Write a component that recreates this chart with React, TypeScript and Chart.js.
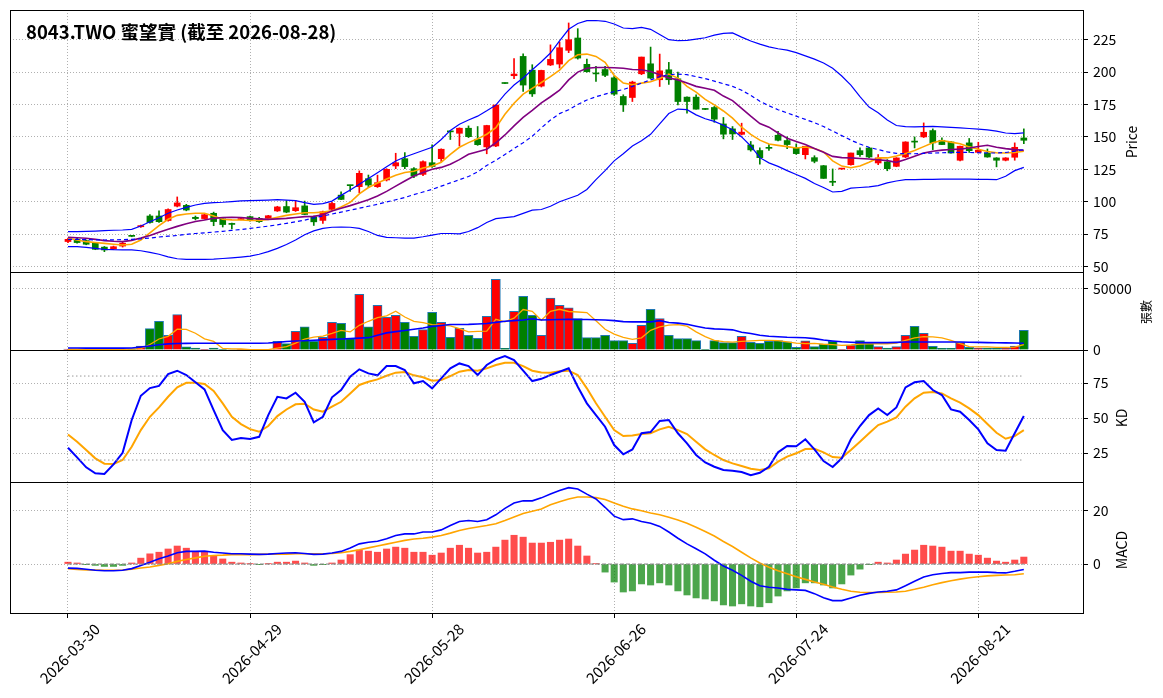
import React, { useEffect, useRef } from 'react';
import Chart from 'chart.js/auto';

// trading days shown on the x axis
const dates = [
  '2026-03-30', '2026-03-31', '2026-04-01', '2026-04-02', '2026-04-07', '2026-04-08', '2026-04-09', '2026-04-10',
  '2026-04-13', '2026-04-14', '2026-04-15', '2026-04-16', '2026-04-17', '2026-04-20', '2026-04-21', '2026-04-22',
  '2026-04-23', '2026-04-24', '2026-04-27', '2026-04-28', '2026-04-29', '2026-04-30', '2026-05-04', '2026-05-05',
  '2026-05-06', '2026-05-07', '2026-05-08', '2026-05-11', '2026-05-12', '2026-05-13', '2026-05-14', '2026-05-15',
  '2026-05-18', '2026-05-19', '2026-05-20', '2026-05-21', '2026-05-22', '2026-05-25', '2026-05-26', '2026-05-27',
  '2026-05-28', '2026-05-29', '2026-06-01', '2026-06-02', '2026-06-03', '2026-06-04', '2026-06-05', '2026-06-08',
  '2026-06-09', '2026-06-10', '2026-06-11', '2026-06-12', '2026-06-15', '2026-06-16', '2026-06-17', '2026-06-18',
  '2026-06-22', '2026-06-23', '2026-06-24', '2026-06-25', '2026-06-26', '2026-06-29', '2026-06-30', '2026-07-01',
  '2026-07-02', '2026-07-03', '2026-07-06', '2026-07-07', '2026-07-08', '2026-07-09', '2026-07-10', '2026-07-13',
  '2026-07-14', '2026-07-15', '2026-07-16', '2026-07-17', '2026-07-20', '2026-07-21', '2026-07-22', '2026-07-23',
  '2026-07-24', '2026-07-27', '2026-07-28', '2026-07-29', '2026-07-30', '2026-07-31', '2026-08-03', '2026-08-04',
  '2026-08-05', '2026-08-06', '2026-08-07', '2026-08-10', '2026-08-11', '2026-08-12', '2026-08-13', '2026-08-14',
  '2026-08-17', '2026-08-18', '2026-08-19', '2026-08-20', '2026-08-21', '2026-08-24', '2026-08-25', '2026-08-26',
  '2026-08-27', '2026-08-28',
];

const open = [
  69.3, 71, 70, 68, 65, 63.5, 65.8, 73.7, 80.7, 89,
  89, 85.5, 96.6, 97.2, 88, 87, 91.1, 86.8, 83.3, 86.2,
  88.5, 87.2, 87.2, 92.9, 96.3, 93.1, 96.8, 88.4, 85.6, 94.1,
  105.1, 112.6, 111.6, 117.8, 111.6, 116.8, 127.6, 133.2, 125.5, 121.1,
  130.1, 133.2, 154.3, 152.8, 156.7, 148.2, 142.3, 143, 191.5, 197.2,
  212.1, 201.5, 189.2, 205.5, 206.2, 216.8, 226.3, 206, 199, 202,
  195.6, 181.2, 180.4, 198.7, 206.4, 194.1, 201.8, 194.8, 180.7, 180.7,
  171.6, 172.7, 160, 156.2, 152, 143.8, 139.5, 141.8, 151.3, 147.2,
  141.5, 136.3, 134, 127.8, 115.5, 125.2, 128.6, 139.4, 141.5, 129.9,
  130.7, 127.3, 134.5, 146.3, 150, 154.9, 147.4, 146.1, 132, 145.4,
  138.1, 137.6, 133.8, 132, 134.3, 149.2,
];
const high = [
  72, 72.5, 70.5, 68.5, 65.5, 65.8, 68.8, 74, 82, 90,
  93, 94.5, 103.7, 98, 89, 90.5, 92, 87, 83.5, 87.2,
  89, 88, 89.5, 96.5, 100.8, 101, 100.5, 89, 92.8, 99.5,
  107.6, 112.8, 123.8, 120.6, 120.5, 125.5, 137.4, 137.9, 126.3, 131.6,
  143.8, 140.8, 154.5, 157, 158.5, 158, 159, 174.7, 191.8, 210.5,
  214, 205.7, 201.5, 221, 223.2, 237.9, 233.5, 210, 204.4, 204.5,
  197, 182.5, 193, 211.6, 219.3, 213.9, 207.5, 200, 181, 182.5,
  172, 173.5, 165, 158, 160.6, 146.5, 141.5, 144, 154.4, 150,
  144.6, 142.8, 135.5, 128, 125.3, 125.8, 137.6, 141.5, 142, 136.4,
  132.5, 134, 146.3, 150, 160.8, 156.2, 149.2, 146.5, 143, 148.8,
  145.9, 140.7, 134, 134, 145.4, 156.2,
];
const low = [
  68.5, 68, 66.8, 63, 61.5, 63, 65, 73, 80.2, 83.5,
  84, 85, 96, 93, 86, 86.5, 81.5, 80.5, 79, 86,
  85, 84, 87, 92.5, 91.5, 92.5, 90, 81.7, 83.2, 93.5,
  101.5, 108, 107, 111, 111, 116, 125.5, 125.5, 118.5, 120.2,
  126.5, 131, 148, 143, 149.5, 143.5, 137, 142.5, 191, 195,
  185, 181.2, 188.5, 205, 203.1, 215, 210, 200, 192.8, 196.5,
  182, 169.6, 177.3, 198, 195, 188.9, 190.5, 174.7, 168.3, 171.4,
  171, 161.3, 148.5, 148, 151.5, 139, 129, 139.5, 147, 141,
  136.5, 133, 130, 118, 112.4, 125, 128.2, 135, 134, 128.6,
  123.9, 127, 134, 141.5, 149.5, 140.2, 144.1, 137.5, 131.5, 138,
  137.6, 134.3, 126.9, 131.5, 132, 144.8,
];
const close = [
  71, 68.5, 67.2, 63.3, 62.8, 65.3, 68, 73.3, 81.6, 84,
  84.6, 94, 99.1, 93.6, 87, 90, 84.7, 82.4, 82.5, 87,
  85.4, 84.6, 89.2, 96, 92, 95.4, 90.2, 84.5, 92.3, 98.7,
  101.8, 112.4, 121.9, 112.9, 114.7, 125, 130.1, 127.1, 119.8, 130.9,
  127.2, 140.5, 153.9, 156.7, 150.2, 144, 158.8, 174.6, 191.2, 198.5,
  190, 183.2, 201.3, 209.8, 218.8, 225, 210.8, 200.3, 198.6, 197.5,
  183, 174.7, 192.3, 211.6, 195.4, 201, 194.1, 177.3, 177.3, 171.4,
  171.2, 163.7, 152.1, 152.3, 153.7, 140, 134, 141.2, 147.4, 144.1,
  137.1, 142.8, 131.2, 118, 115, 125.6, 137.6, 136.3, 134.5, 133.8,
  125.5, 133.8, 146.1, 146, 153.6, 145.4, 144.1, 137.6, 142.8, 139.4,
  139.7, 134.5, 132, 133.8, 142, 147.4,
];

const ma5 = [
  71.8, 70.5, 69.2, 68.5, 67.9, 67.2, 66.6, 67.2, 70.5, 76,
  81.5, 86.5, 89.5, 90.5, 91.1, 91.1, 89, 86.5, 86, 85.9,
  85.5, 85.6, 86.4, 88, 89.5, 90.5, 91.5, 91.5, 92, 93,
  96, 99.5, 106, 111, 114.5, 117.5, 120.5, 122.5, 123.5, 126,
  127.6, 130.5, 136.6, 142, 145.6, 148.5, 152.1, 157.2, 167.5, 176,
  183, 187.5, 192, 196.5, 201.5, 208.8, 213.4, 213.9, 212.1, 207.5,
  197.5, 191.5, 190.2, 191.5, 192.5, 195, 198.5, 195.4, 189, 184.5,
  179, 174.7, 170, 164.5, 157.5, 152, 147.5, 144.5, 143.5, 142.5,
  141.5, 142.2, 141, 138.5, 131.5, 127.5, 126.2, 127.5, 130.5, 133.8,
  133.8, 135.3, 137.1, 139.5, 142.5, 145.5, 147.2, 146, 144.8, 142.3,
  140.5, 138.8, 137.8, 137.6, 138, 138.9,
];
const ma10 = [
  72.6, 72.2, 71.8, 71, 70, 69.5, 69.2, 70.2, 72, 74,
  76.5, 78.7, 81, 83, 84.8, 85.9, 87.2, 87.8, 88, 87.8,
  87.2, 86.8, 86.4, 86.8, 87.2, 87.8, 88.5, 88.7, 90, 92.8,
  95, 97, 99.2, 101.5, 104.5, 108, 112, 116, 119.8, 122.5,
  125, 126.5, 129, 132.5, 136.6, 138.6, 140.5, 145.5, 151.5, 158.5,
  165, 170.5, 176.3, 181, 186, 194, 200, 203, 203.6, 203.6,
  203.4, 203, 202, 201.8, 200.5, 198, 195.5, 194, 191.5, 189,
  187.6, 186, 181.5, 178, 172, 166, 160.3, 157.5, 153, 149,
  146.5, 144.1, 141, 138.2, 135, 134, 133.8, 133.4, 133, 132.4,
  131.7, 130.4, 132.5, 135, 137.5, 138.9, 139.8, 140.3, 140.6, 141.5,
  142.6, 143.6, 142, 141, 140.2, 139.7,
];
const bbUpper = [
  76.9, 76.9, 77.2, 77.4, 77.7, 78, 78.2, 78.7, 81.3, 84.6,
  87.7, 91.1, 93.6, 95.7, 97.5, 98.8, 99.3, 99.6, 100.1, 100.6,
  100.8, 101.1, 101.3, 101.6, 101.3, 100.8, 99.3, 98, 98.5, 100.5,
  104.9, 109, 113.4, 118, 122.4, 127, 131.4, 134.5, 137, 139.5,
  142, 148, 155, 159.8, 163, 166, 170.1, 174.5, 183, 190,
  195.4, 201.8, 208, 214.7, 224, 233, 237.5, 239.7, 239.8, 239.2,
  237.1, 234, 233.5, 234.5, 233, 229, 225, 224.2, 224.5, 225.5,
  226.5, 228.5, 229.8, 230.2, 227, 224, 221.6, 219.5, 218, 217,
  215, 212.5, 210, 207, 203, 197, 190, 181, 173, 168.6,
  163, 158.8, 158, 157.7, 157.9, 158.2, 157.8, 157.4, 157, 156.5,
  156, 155.5, 154.5, 153, 152.6, 153.1,
];
const bbMid = [
  71, 70.9, 70.8, 70.6, 70.5, 70.6, 70.8, 71, 71.4, 72,
  72.8, 73.4, 74, 74.8, 75.5, 76, 76.6, 77.2, 77.9, 78.6,
  79.4, 80.3, 81.2, 82.2, 83.3, 84.5, 85.8, 87.5, 89, 90.5,
  92, 93.5, 95, 96.5, 98, 99.8, 101.5, 103.3, 105.5, 107.5,
  109.5, 112, 114.5, 117, 119.5, 123, 128, 132, 136.5, 141,
  145.5, 150.5, 157, 163, 168, 171, 175, 178.5, 181, 183,
  185, 186.5, 189, 191.5, 194, 196.5, 198, 198.5, 198, 196.5,
  195, 193, 191, 189, 186, 182, 177.5, 174, 171, 168.5,
  166, 163.5, 161, 158, 154.5, 151, 147.5, 144.5, 142, 140.2,
  138.5, 137.3, 137, 137, 137.3, 137.5, 137.8, 138, 138.1, 138,
  137.8, 137.6, 137.6, 138, 139, 140.2,
];
const bbLower = [
  65.4, 65.3, 64.8, 64, 63.3, 63, 62.9, 62.8, 62.2, 61,
  59.5, 57.5, 56, 55.6, 55.5, 55.6, 55.8, 56.2, 56.7, 57.3,
  58, 59.5, 61.5, 64, 67, 70.5, 74.5, 77.5, 79.5, 80.3,
  80.5, 80.3, 79.5, 77, 74, 72.5, 72.2, 72, 72, 73,
  74.3, 75.5, 75.5, 75.2, 77, 80, 84, 87, 87.8, 88.5,
  91, 93.5, 94, 96.5, 100, 102.5, 105, 109.5, 117, 124,
  131.5, 137, 143, 147, 152, 160, 168, 171.5, 171, 167,
  164, 162, 159, 155.5, 150, 143, 134, 130, 127.3, 124,
  121, 118, 114, 111, 107.5, 108, 110.5, 111, 111.5, 112.4,
  114.5, 116, 117, 117, 117.2, 117.3, 117.4, 117.5, 117.5, 117.5,
  117.3, 117.2, 117, 119.6, 124, 126.5,
];

const volume = [
  800, 600, 500, 700, 600, 500, 400, 900, 3300, 17500,
  23500, 12000, 29000, 2500, 1600, 500, 1600, 300, 400, 200,
  200, 300, 400, 7100, 5200, 15300, 18900, 7100, 10400, 22700,
  21900, 9300, 45600, 18900, 36600, 26800, 28400, 22700, 11200, 16700,
  30900, 22700, 10400, 17800, 12000, 9600, 27600, 57900, 1400, 31700,
  44000, 28400, 12000, 42400, 36600, 34400, 25700, 10100, 10100, 12000,
  7700, 7700, 5500, 20200, 33300, 25700, 12000, 9300, 9300, 7700,
  300, 7700, 6000, 6000, 11200, 6300, 5500, 7100, 7700, 6600,
  2200, 7400, 2700, 4900, 7100, 300, 3800, 7700, 5500, 2700,
  1600, 2700, 12000, 19400, 13700, 3000, 1400, 1400, 6000, 2200,
  1600, 1600, 1600, 1400, 3300, 16100,
];
const volMa5 = [
  600, 600, 600, 600, 600, 600, 600, 650, 1200, 4500,
  9000, 11200, 17000, 16900, 13700, 9100, 7000, 1300, 900, 800,
  300, 300, 300, 1600, 2700, 5700, 9000, 10600, 11400, 13600,
  16100, 14800, 20200, 23500, 26400, 27900, 31700, 27000, 23500, 22400,
  20800, 20400, 19700, 17500, 14800, 15300, 15500, 25100, 23000, 26000,
  33100, 31700, 24300, 31700, 33300, 31500, 31100, 30600, 24000, 16900,
  13000, 10300, 8700, 10000, 16100, 18900, 20300, 20800, 19500, 14800,
  11000, 7800, 6900, 6500, 7000, 7500, 7900, 7800, 7700, 6600,
  5600, 5200, 5400, 4700, 4400, 3800, 4100, 4900, 5000, 5300,
  5100, 5700, 7900, 10000, 10900, 10700, 10000, 7900, 5200, 2800,
  2500, 2600, 2200, 2100, 2400, 4400,
];
const volMa20 = [
  1600, 1600, 1550, 1550, 1500, 1500, 1500, 1600, 2400, 3300,
  4300, 5000, 5300, 5400, 5500, 5500, 5500, 5500, 5500, 5500,
  5500, 5500, 5700, 6200, 7000, 7300, 7600, 8000, 8300, 8700,
  9000, 9300, 9700, 10100, 12000, 14000, 15000, 16000, 17000, 18000,
  19300, 20000, 20800, 20900, 21000, 21300, 21700, 22600, 23500, 24000,
  24600, 25500, 24500, 24800, 25000, 25100, 25000, 24900, 24700, 24500,
  24000, 23200, 23000, 23000, 23000, 24000, 22500, 22000, 21000, 19500,
  18000, 17300, 17000, 16500, 14500, 13500, 12000, 11300, 10800, 10400,
  10200, 10000, 9300, 8200, 7400, 6700, 6400, 6000, 6000, 6000,
  6000, 6200, 6500, 6600, 6600, 6600, 6600, 6600, 6600, 6400,
  6200, 6000, 5900, 5800, 5700, 5500,
];

const kValues = [
  28.8, 21.9, 14.8, 10.5, 10, 16.9, 25.2, 48.6, 65.9, 71.4,
  72.9, 81.4, 83.8, 80.7, 75.5, 70.5, 55.7, 41.4, 34.3, 35.7,
  35, 36.6, 52.1, 65.2, 64, 68.1, 61.6, 46.9, 50.9, 64.8,
  70, 79.5, 84.8, 81.9, 80.5, 87.1, 87.1, 84.3, 74.8, 76.4,
  71.2, 78.3, 85.5, 89, 87.1, 80.7, 87.9, 91.9, 94.3, 91.4,
  83.8, 76.4, 78, 80.7, 83.1, 85.5, 72.4, 60.5, 52.1, 43.8,
  30.7, 24.1, 27.6, 39.1, 40, 47.9, 48.6, 39.1, 31.9, 23.6,
  18.3, 15.2, 12.9, 12.4, 11.4, 9.1, 10.9, 15.2, 25.5, 30,
  29.8, 34.8, 27.6, 19.3, 15, 21.2, 34.8, 44.3, 52.1, 56.9,
  52.1, 57.6, 71.9, 75.5, 76.4, 70, 66.4, 56.2, 54.5, 48.6,
  41.9, 31.9, 27.1, 26.7, 39.1, 51.4,
];
const dValues = [
  38.3, 33.1, 27.1, 21.2, 17.4, 17.1, 20, 29.5, 41.4, 50.9,
  57.6, 65.2, 71.9, 75.2, 75.2, 74.3, 69.3, 60.5, 50.9, 45.7,
  42.1, 40.2, 44.3, 51.4, 56.1, 59.8, 60.2, 56.1, 54.5, 58.1,
  61.6, 67.6, 73.6, 75.9, 77.6, 80.2, 82.4, 82.9, 80.5, 79.1,
  76.6, 77.1, 80, 83.1, 84.3, 83.8, 85.5, 87.9, 89.5, 89.5,
  87.1, 83.8, 82.6, 82.4, 83.4, 83.8, 80.7, 71.2, 60.5, 50.9,
  41.4, 37.1, 37.6, 38.6, 39.1, 41.9, 43.8, 41.4, 38.6, 33.1,
  27.6, 23.6, 20, 17.6, 15.7, 13.8, 12.9, 14, 18.8, 22.4,
  24.8, 27.8, 28, 25.5, 22.1, 21.7, 27.1, 33.1, 39.1, 45,
  47.4, 50.5, 58.1, 64.1, 68.1, 68.6, 67.6, 64.1, 61, 56.9,
  52.1, 45.7, 39.5, 35.2, 37.1, 41.4,
];

const dif = [
  -1.5, -1.6, -1.95, -2.3, -2.5, -2.5, -2.3, -1.7, -0.5, 0.7,
  2, 3, 4.2, 4.7, 4.7, 4.8, 4.4, 4.1, 3.8, 3.8,
  3.7, 3.6, 3.7, 3.9, 4.1, 4.2, 3.9, 3.6, 3.7, 4.1,
  4.7, 6, 7.5, 8.1, 8.5, 9.4, 10.6, 11.2, 11.2, 11.9,
  11.9, 12.7, 14.3, 15.8, 16.2, 15.8, 16.5, 18.3, 20.7, 22.7,
  23.5, 23.5, 24.6, 26, 27.3, 28.4, 27.9, 26, 24.2, 21.1,
  17.8, 16.5, 16.8, 15.8, 15.2, 14, 11.9, 9.6, 7.5, 5.7,
  3.8, 1.4, -0.7, -2.3, -4.2, -6.4, -8.1, -8.6, -8.9, -9.4,
  -9.6, -9.8, -11, -12.5, -13.6, -13.6, -12.6, -11.6, -10.9, -10.4,
  -10.1, -9.6, -8.1, -6.4, -4.8, -4, -3.5, -3.2, -3.2, -3,
  -3, -3, -3.2, -3.3, -2.7, -2,
];
const signal = [
  -1.7, -2, -2.2, -2.2, -2.3, -2.3, -2.2, -1.9, -1.5, -1.1,
  -0.5, 0.1, 1, 1.7, 2.3, 2.9, 3.2, 3.3, 3.5, 3.5,
  3.5, 3.6, 3.7, 3.7, 3.7, 3.8, 3.8, 3.8, 3.8, 3.9,
  4.2, 4.7, 5.3, 6, 6.7, 7.4, 8.1, 8.8, 9.3, 9.6,
  10, 10.6, 11.5, 12.5, 13.2, 13.8, 14.3, 15, 16.2, 17.5,
  18.8, 19.6, 20.5, 22, 23.2, 24.2, 24.9, 24.9, 24.7, 24,
  22.7, 21.5, 20.5, 19.8, 19, 18.3, 17.4, 16.4, 15.2, 13.7,
  12.1, 10.4, 8.4, 6.5, 4.4, 2.3, 0.4, -1.2, -2.5, -3.6,
  -4.7, -5.7, -6.7, -7.5, -8.5, -9.4, -10.1, -10.5, -10.6, -10.6,
  -10.5, -10.4, -10.1, -9.4, -8.6, -7.7, -6.9, -6.2, -5.6, -5.1,
  -4.7, -4.4, -4.2, -4.1, -4, -3.6,
];
const hist = [
  0.7, 0.4, -0.1, -0.5, -0.9, -0.9, -0.5, 0.4, 2.2, 3.8,
  4.4, 5.6, 6.7, 5.9, 4.7, 4.7, 3.2, 1.9, 0.7, 0.4,
  0.1, -0.1, 0.1, 0.7, 0.7, 1.1, 0.4, -0.5, -0.1, 0.4,
  1.5, 3.5, 5.2, 4.8, 4.4, 5.6, 6.3, 5.9, 4.4, 4.4,
  3.3, 4.1, 5.9, 7, 5.9, 4.1, 4.4, 6.3, 8.9, 10.7,
  10, 7.8, 7.8, 8.1, 8.9, 9.3, 6.7, 3, 0.1, -3,
  -6.7, -10.4, -10, -7.4, -7.8, -7, -7.8, -10, -11.5, -12.6,
  -13, -13.7, -15.2, -15.6, -14.8, -15.6, -15.9, -14.4, -11.9, -10,
  -8.9, -7, -7, -7.8, -8.9, -7.4, -4.1, -1.9, -0.1, 0.7,
  0.4, 1.5, 3.7, 5.2, 7, 6.7, 6.3, 4.8, 4.8, 3.7,
  3.3, 2.2, 1.1, 0.7, 1.5, 2.6,
];

const xTicks = [0, 20, 40, 60, 80, 100];
const priceTicks = [50, 75, 100, 125, 150, 175, 200, 225];
const volTicks = [0, 50000];
const kdTicks = [25, 50, 75];
const macdTicks = [0, 20];
const kdLevels = [80, 20];

const UP = '#ff0000';
const DOWN = '#008000';
const GRID = '#b0b0b0';
const FONT = '"Noto Sans CJK TC", "Noto Sans", sans-serif';

Chart.defaults.font.family = FONT;
Chart.defaults.font.size = 14;
Chart.defaults.color = '#000';

const pts = (arr: number[]) => arr.map((y, i) => ({ x: i, y }));
const candleColor = (i: number) => (close[i] >= open[i] ? UP : DOWN);
const lastIdx = dates.length - 1;

const line = (data: any[], yAxisID: string, color: string, width: number, dash: number[] = []) => ({
  type: 'line' as const,
  data,
  yAxisID,
  borderColor: color,
  borderWidth: width,
  borderDash: dash,
  pointRadius: 0,
  tension: 0,
  fill: false,
  order: 1,
});

const yAxis = (weight: number, min: number, max: number, ticks: number[]) => ({
  type: 'linear' as const,
  position: 'right' as const,
  stack: 'panels',
  stackWeight: weight,
  min,
  max,
  afterBuildTicks: (s: any) => {
    s.ticks = ticks.map((v) => ({ value: v }));
  },
  afterFit: (s: any) => {
    s.width = 80;
    s.paddingTop = 0;
    s.paddingBottom = 0;
  },
  ticks: { padding: 5, callback: (v: any) => String(v) },
  grid: { color: GRID, tickColor: '#000', tickLength: 5 },
  border: { display: false, dash: [1, 2] },
});

// black frame around each panel, like the axes spines
const framePlugin = {
  id: 'panelFrames',
  afterDraw(chart: any) {
    const { ctx, chartArea } = chart;
    ctx.save();
    ctx.strokeStyle = '#000';
    ctx.lineWidth = 1;
    ['yPrice', 'yVol', 'yKD', 'yMacd'].forEach((id) => {
      const s = chart.scales[id];
      ctx.strokeRect(
        Math.round(chartArea.left) + 0.5,
        Math.round(s.top) + 0.5,
        Math.round(chartArea.right - chartArea.left),
        Math.round(s.bottom - s.top)
      );
    });
    ctx.restore();
  },
};

const axisTitle = (cx: number, cy: number, size: number): React.CSSProperties => ({
  position: 'absolute',
  left: cx,
  top: cy,
  transform: 'translate(-50%, -50%) rotate(-90deg)',
  fontFamily: FONT,
  fontSize: size,
  lineHeight: 1,
  whiteSpace: 'nowrap',
  color: '#000',
});

export default function App() {
  const canvasRef = useRef<HTMLCanvasElement>(null);

  useEffect(() => {
    if (!canvasRef.current) return;
    const chart = new Chart(canvasRef.current, {
      type: 'bar',
      data: {
        datasets: [
          {
            type: 'bar',
            data: dates.map((_, i) => ({ x: i, y: [low[i], high[i]] })),
            yAxisID: 'yPrice',
            backgroundColor: dates.map((_, i) => candleColor(i)),
            barThickness: 1,
            grouped: false,
            order: 3,
          },
          {
            type: 'bar',
            data: dates.map((_, i) => ({ x: i, y: [open[i], close[i]] })),
            yAxisID: 'yPrice',
            backgroundColor: dates.map((_, i) => candleColor(i)),
            barThickness: 6,
            minBarLength: 1,
            grouped: false,
            order: 2,
          },
          line(pts(bbUpper), 'yPrice', '#0000ff', 1.2),
          line(pts(bbLower), 'yPrice', '#0000ff', 1.2),
          line(pts(bbMid), 'yPrice', '#0000ff', 1.2, [4, 3]),
          line(pts(ma10), 'yPrice', '#800080', 1.6),
          line(pts(ma5), 'yPrice', '#ffa500', 1.6),
          {
            type: 'bar',
            data: pts(volume),
            yAxisID: 'yVol',
            backgroundColor: dates.map((_, i) => candleColor(i)),
            borderColor: '#1f77b4',
            borderWidth: 1,
            barThickness: 9.1,
            grouped: false,
            order: 2,
          },
          line(pts(volMa20), 'yVol', '#0000ff', 1.6),
          line(pts(volMa5), 'yVol', '#ffa500', 1.3),
          ...kdLevels.map((lv) =>
            line([{ x: 0, y: lv }, { x: lastIdx, y: lv }], 'yKD', '#999999', 1, [1.5, 2.5])
          ),
          line(pts(kValues), 'yKD', '#0000ff', 2),
          line(pts(dValues), 'yKD', '#ffa500', 2),
          {
            type: 'bar',
            data: pts(hist),
            yAxisID: 'yMacd',
            backgroundColor: hist.map((v) => (v >= 0 ? 'rgba(255,0,0,0.7)' : 'rgba(0,128,0,0.7)')),
            barThickness: 6.4,
            grouped: false,
            order: 2,
          },
          line([{ x: 0, y: 0 }, { x: lastIdx, y: 0 }], 'yMacd', '#808080', 1, [4, 2]),
          line(pts(dif), 'yMacd', '#0000ff', 1.6),
          line(pts(signal), 'yMacd', '#ffa500', 1.6),
        ] as any,
      },
      options: {
        responsive: false,
        animation: false,
        layout: { padding: { top: 10, left: 10, right: 0, bottom: 0 } },
        plugins: { legend: { display: false }, tooltip: { enabled: false } },
        scales: {
          x: {
            type: 'linear',
            offset: false,
            min: -6.37,
            max: 111.5,
            afterBuildTicks: (s: any) => {
              s.ticks = xTicks.map((v) => ({ value: v }));
            },
            afterFit: (s: any) => {
              s.height = 85;
              s.paddingLeft = 0;
              s.paddingRight = 0;
            },
            ticks: {
              autoSkip: false,
              minRotation: 45,
              maxRotation: 45,
              labelOffset: 29,
              padding: 2,
              font: { size: 15 },
              callback: (v: any) => dates[Number(v)] ?? '',
            },
            grid: { offset: false, color: GRID, tickColor: '#000', tickLength: 5 },
            border: { display: false, dash: [1, 2] },
          },
          yPrice: yAxis(262, 45.8, 247.9, priceTicks),
          yVol: yAxis(78, 0, 63800, volTicks),
          yKD: yAxis(132, 4.3, 98.6, kdTicks),
          yMacd: yAxis(131, -18.2, 30.5, macdTicks),
        } as any,
      },
      plugins: [framePlugin],
    });
    return () => chart.destroy();
  }, []);

  return (
    <div style={{ position: 'fixed', left: 0, top: 0, width: 1163, height: 698, background: '#fff' }}>
      <canvas ref={canvasRef} width={1163} height={698} style={{ position: 'absolute', left: 0, top: 0 }} />
      <div
        style={{
          position: 'absolute',
          left: 26,
          top: 21,
          fontFamily: FONT,
          fontWeight: 'bold',
          fontSize: 18.5,
          lineHeight: '20px',
          whiteSpace: 'nowrap',
          color: '#000',
        }}
      >
        8043.TWO 蜜望實 (截至 2026-08-28)
      </div>
      <div style={axisTitle(1131, 142, 14)}>Price</div>
      <div style={axisTitle(1146, 312, 12)}>張數</div>
      <div style={axisTitle(1121, 418, 14)}>KD</div>
      <div style={axisTitle(1121, 550, 14)}>MACD</div>
    </div>
  );
}
